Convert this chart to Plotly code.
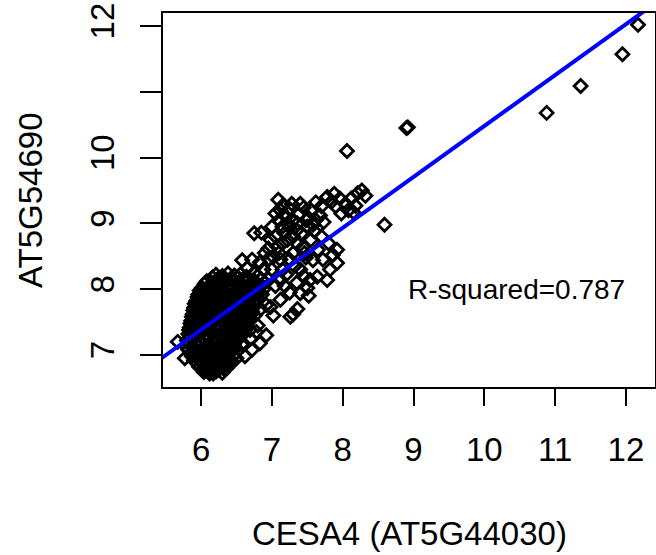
import plotly.graph_objects as go

# ---- data: CESA4 (x) vs AT5G54690 (y) ----
# dense core of the cloud
core_points = [
    (6.21, 8.22), (6.30, 8.20), (6.38, 8.24), (6.47, 8.21), (6.56, 8.23), (6.64, 8.19),
    (6.08, 8.12), (6.17, 8.10), (6.26, 8.14), (6.35, 8.11), (6.44, 8.13), (6.53, 8.10), (6.62, 8.12), (6.74, 8.14),
    (6.01, 8.02), (6.10, 8.04), (6.19, 8.00), (6.28, 8.03), (6.37, 8.01), (6.46, 8.03), (6.55, 8.00), (6.64, 8.02), (6.78, 8.04),
    (5.96, 7.92), (6.05, 7.90), (6.14, 7.93), (6.23, 7.91), (6.32, 7.94), (6.41, 7.90), (6.50, 7.92), (6.59, 7.93), (6.68, 7.91), (6.79, 7.93),
    (5.93, 7.82), (6.02, 7.84), (6.11, 7.80), (6.20, 7.83), (6.29, 7.81), (6.38, 7.82), (6.47, 7.84), (6.56, 7.80), (6.65, 7.83), (6.76, 7.81),
    (5.90, 7.72), (5.99, 7.70), (6.08, 7.73), (6.17, 7.71), (6.26, 7.74), (6.35, 7.70), (6.44, 7.72), (6.53, 7.73), (6.62, 7.71), (6.73, 7.72),
    (5.88, 7.62), (5.97, 7.64), (6.06, 7.60), (6.15, 7.63), (6.24, 7.61), (6.33, 7.62), (6.42, 7.64), (6.51, 7.60), (6.60, 7.63), (6.70, 7.61),
    (5.86, 7.52), (5.95, 7.50), (6.04, 7.53), (6.13, 7.51), (6.22, 7.54), (6.31, 7.50), (6.40, 7.52), (6.49, 7.53), (6.58, 7.51), (6.66, 7.52),
    (5.84, 7.42), (5.93, 7.44), (6.02, 7.40), (6.11, 7.43), (6.20, 7.41), (6.29, 7.42), (6.38, 7.44), (6.47, 7.40), (6.55, 7.43), (6.62, 7.41),
    (5.82, 7.32), (5.91, 7.30), (6.00, 7.33), (6.09, 7.31), (6.18, 7.34), (6.27, 7.30), (6.36, 7.32), (6.45, 7.33), (6.56, 7.31),
    (5.80, 7.22), (5.89, 7.24), (5.98, 7.20), (6.07, 7.23), (6.16, 7.21), (6.25, 7.22), (6.34, 7.24), (6.43, 7.20), (6.51, 7.23),
    (5.80, 7.12), (5.89, 7.10), (5.98, 7.13), (6.07, 7.11), (6.16, 7.14), (6.25, 7.10), (6.34, 7.12), (6.42, 7.13), (6.49, 7.11),
    (5.85, 7.02), (5.94, 7.04), (6.03, 7.00), (6.12, 7.03), (6.21, 7.01), (6.30, 7.02), (6.38, 7.04), (6.46, 7.00),
    (5.90, 6.92), (5.99, 6.90), (6.08, 6.93), (6.17, 6.91), (6.26, 6.94), (6.34, 6.90), (6.42, 6.92),
    (5.97, 6.82), (6.07, 6.84), (6.17, 6.80), (6.27, 6.83), (6.37, 6.81),
    (6.04, 6.74), (6.12, 6.72), (6.21, 6.75), (6.30, 6.73),
]

# further samples inside the core (between the ones above)
core_inner_points = [
    (6.25, 8.17), (6.43, 8.17), (6.60, 8.16), (6.14, 8.07), (6.32, 8.07), (6.50, 8.07), (6.70, 8.08),
    (6.05, 7.97), (6.23, 7.97), (6.41, 7.97), (6.59, 7.97), (6.00, 7.87), (6.18, 7.87), (6.36, 7.87),
    (6.54, 7.87), (6.72, 7.87), (5.95, 7.77), (6.13, 7.77), (6.31, 7.77), (6.49, 7.77), (6.67, 7.77),
    (5.92, 7.67), (6.10, 7.67), (6.28, 7.67), (6.46, 7.67), (6.64, 7.67), (5.90, 7.57), (6.08, 7.57),
    (6.26, 7.57), (6.44, 7.57), (6.62, 7.57), (5.88, 7.47), (6.06, 7.47), (6.24, 7.47), (6.42, 7.47),
    (6.58, 7.47), (5.86, 7.37), (6.04, 7.37), (6.22, 7.37), (6.40, 7.37), (6.52, 7.37), (5.84, 7.27),
    (6.02, 7.27), (6.20, 7.27), (6.38, 7.27), (5.84, 7.17), (6.02, 7.17), (6.20, 7.17), (6.38, 7.17),
    (5.89, 7.07), (6.07, 7.07), (6.25, 7.07), (6.42, 7.07), (5.95, 6.97), (6.13, 6.97), (6.30, 6.97),
    (6.02, 6.87), (6.20, 6.87), (6.33, 6.87), (6.10, 6.78), (6.25, 6.78),
]

# still more samples packed in the core
core_fill_points = [
    (6.16, 8.18), (6.34, 8.16), (6.52, 8.18), (6.68, 8.15),
    (6.05, 8.08), (6.23, 8.06), (6.41, 8.08), (6.59, 8.06), (6.76, 8.09),
    (5.98, 7.98), (6.14, 7.96), (6.32, 7.98), (6.50, 7.96), (6.68, 7.98), (6.80, 7.97),
    (5.95, 7.88), (6.09, 7.86), (6.27, 7.88), (6.45, 7.86), (6.63, 7.88), (6.79, 7.86),
    (5.91, 7.78), (6.04, 7.76), (6.22, 7.78), (6.40, 7.76), (6.58, 7.78), (6.76, 7.76),
    (5.89, 7.68), (6.01, 7.66), (6.19, 7.68), (6.37, 7.66), (6.55, 7.68), (6.72, 7.66),
    (5.87, 7.58), (5.99, 7.56), (6.17, 7.58), (6.35, 7.56), (6.53, 7.58), (6.68, 7.56),
    (5.85, 7.48), (5.97, 7.46), (6.15, 7.48), (6.33, 7.46), (6.50, 7.48), (6.64, 7.46),
    (5.83, 7.38), (5.95, 7.36), (6.13, 7.38), (6.31, 7.36), (6.46, 7.38), (6.60, 7.36),
    (5.93, 7.28), (6.11, 7.26), (6.29, 7.28), (6.47, 7.26), (6.55, 7.27),
    (5.93, 7.18), (6.11, 7.16), (6.29, 7.18), (6.46, 7.16),
    (5.82, 7.08), (5.98, 7.06), (6.16, 7.08), (6.34, 7.06),
    (5.87, 6.98), (6.04, 6.96), (6.21, 6.98), (6.38, 6.96),
    (5.94, 6.88), (6.11, 6.86), (6.27, 6.88), (6.40, 6.86),
    (6.03, 6.79), (6.18, 6.77), (6.32, 6.79),
]

# looser points around the core
spread_points = [
    (6.58, 8.44), (6.65, 8.32), (6.83, 8.41), (7.02, 8.49), (6.75, 8.85), (6.85, 8.86),
    (7.08, 8.64), (7.22, 8.75), (7.44, 8.64), (7.58, 8.44), (7.16, 9.28), (7.09, 9.36),
    (7.25, 9.22), (7.30, 9.05), (7.38, 9.14), (7.45, 9.24), (7.20, 9.10), (7.15, 8.95),
    (7.05, 8.80), (7.35, 8.90), (7.50, 8.95), (7.55, 9.20), (7.62, 9.32), (7.68, 9.12),
    (7.73, 9.02), (7.78, 9.40), (7.84, 9.33), (7.90, 9.26), (7.96, 9.38), (8.04, 9.30),
    (8.12, 9.38), (8.21, 9.46), (8.27, 9.50), (8.32, 9.42), (8.18, 9.27), (8.08, 9.20),
    (7.98, 9.15), (8.15, 9.17), (7.60, 8.88), (7.70, 8.80), (7.80, 8.70), (7.92, 8.60),
    (7.92, 8.40), (7.86, 8.52), (7.64, 8.19), (7.54, 8.14), (7.78, 8.14), (7.40, 7.94),
    (7.12, 7.84), (7.12, 8.14), (7.26, 7.58), (6.98, 7.73), (6.83, 7.18), (6.59, 7.14),
    (6.69, 7.38), (7.00, 8.30), (7.12, 8.45), (7.30, 8.55), (6.95, 8.15), (7.05, 8.05),
    (7.20, 8.22), (7.32, 8.35), (7.48, 8.48), (6.88, 8.00), (6.92, 7.76), (7.02, 7.60),
    (6.80, 7.45), (6.76, 7.60), (6.88, 8.30), (6.72, 8.45), (6.95, 8.46), (7.36, 7.70),
    (7.50, 8.02), (7.52, 7.90), (7.30, 7.62), (6.92, 7.30), (5.67, 7.20), (5.77, 6.95),
    (6.17, 6.72), (6.59, 7.18), (6.75, 8.25), (6.85, 8.15), (6.40, 6.85), (6.50, 6.95),
    (7.00, 8.95), (7.10, 9.05), (7.28, 9.30), (7.36, 9.00), (7.42, 8.85), (7.52, 9.08),
    (7.18, 8.85), (7.25, 8.45), (7.40, 8.30), (7.15, 8.30), (6.95, 8.62), (7.62, 9.05),
    (7.70, 9.26), (7.88, 9.45), (7.46, 8.55),
    (6.82, 8.05), (6.86, 7.92), (6.84, 7.70), (6.80, 8.20), (6.90, 8.10), (6.78, 7.35),
    (6.70, 7.25), (6.62, 6.98), (6.72, 7.08), (7.05, 9.15), (7.12, 9.20), (7.22, 9.00),
    (7.30, 8.80), (7.40, 9.30), (7.48, 9.05), (7.58, 8.98), (7.35, 8.70), (7.15, 8.70),
    (7.25, 8.95), (7.10, 8.55), (6.98, 8.75), (6.90, 8.55), (7.55, 8.75), (7.65, 8.60),
    (7.72, 8.45), (7.82, 8.30), (7.45, 8.20), (7.35, 8.10), (7.25, 7.95), (7.18, 8.05),
]

# isolated high-expression samples
outlier_points = [
    (12.17, 12.02), (11.95, 11.57), (11.36, 11.09), (10.88, 10.68),
    (8.90, 10.45), (8.92, 10.46), (8.06, 10.10), (8.59, 8.98),
]

# fitted regression line and its R-squared
fit_intercept = 2.74
fit_slope = 0.774
r_squared = 0.787

x_ticks = [6, 7, 8, 9, 10, 11, 12]
y_ticks = [7, 8, 9, 10, 11, 12]
y_tick_text = ["7", "8", "9", "10", "", "12"]

x_label = "CESA4 (AT5G44030)"
y_label = "AT5G54690"

# ---- figure ----
all_points = core_points + core_inner_points + core_fill_points + spread_points + outlier_points
xs = [p[0] for p in all_points]
ys = [p[1] for p in all_points]

x_range = [5.462, 12.41]
y_range = [6.514, 12.198]
line_x = [5.3, 12.6]
line_y = [fit_intercept + fit_slope * v for v in line_x]

FONT = "Liberation Sans, Arial, sans-serif"

fig = go.Figure()
fig.add_trace(go.Scatter(
    x=xs, y=ys, mode="markers",
    marker=dict(symbol="diamond-open", size=10, color="black", line=dict(width=2.8)),
    showlegend=False, hoverinfo="skip",
))
fig.add_trace(go.Scatter(
    x=line_x, y=line_y, mode="lines",
    line=dict(color="#0000FF", width=4),
    showlegend=False, hoverinfo="skip",
))

fig.add_annotation(
    x=10.46, y=7.99, xref="x", yref="y",
    text=f"R-squared={r_squared}", showarrow=False,
    font=dict(family=FONT, size=28, color="black"),
    xanchor="center", yanchor="middle",
)
fig.add_annotation(
    x=0.5, y=0, xref="paper", yref="paper", yshift=-146,
    text=x_label, showarrow=False,
    font=dict(family=FONT, size=33, color="black"),
    xanchor="center", yanchor="middle",
)
fig.add_annotation(
    x=0, y=0.5, xref="paper", yref="paper", xshift=-133,
    text=y_label, showarrow=False, textangle=-90,
    font=dict(family=FONT, size=33, color="black"),
    xanchor="center", yanchor="middle",
)

fig.update_layout(
    width=656, height=555,
    margin=dict(l=163, r=1, t=13, b=168),
    paper_bgcolor="white", plot_bgcolor="white",
    font=dict(family=FONT, size=33, color="black"),
    showlegend=False,
)
fig.update_xaxes(
    range=x_range, tickvals=x_ticks, ticktext=[str(t) for t in x_ticks],
    ticks="outside", ticklen=17, tickwidth=2, tickcolor="black",
    showline=True, linecolor="black", linewidth=2, mirror=True,
    showgrid=False, zeroline=False, automargin=False,
    tickfont=dict(family=FONT, size=33, color="black"),
    ticklabelstandoff=15,
)
fig.update_yaxes(
    range=y_range, tickvals=y_ticks, ticktext=y_tick_text,
    ticks="outside", ticklen=21, tickwidth=2, tickcolor="black",
    showline=True, linecolor="black", linewidth=2, mirror=True,
    showgrid=False, zeroline=False, tickangle=-90, automargin=False,
    tickfont=dict(family=FONT, size=33, color="black"),
    ticklabelstandoff=13,
)

fig.write_html(
    "out.html",
    config={"displayModeBar": False},
    post_script="document.body.style.margin='0';",
)
